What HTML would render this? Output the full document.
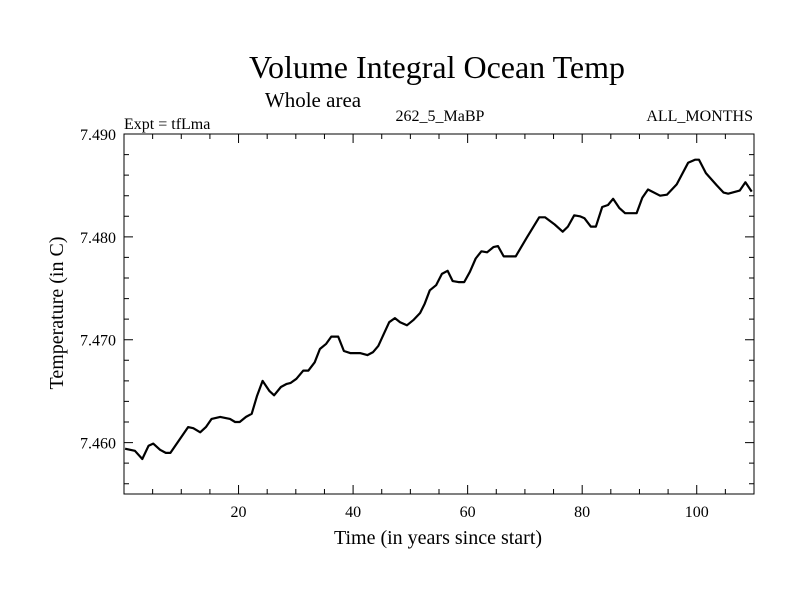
<!DOCTYPE html>
<html><head><meta charset="utf-8"><style>
body{margin:0;background:#fff;}
svg{display:block;font-family:"Liberation Serif",serif;}
</style></head><body>
<svg id="chart" width="800" height="600">
<text x="437" y="78" font-size="32" text-anchor="middle">Volume Integral Ocean Temp</text>
<text x="313" y="107" font-size="21" text-anchor="middle">Whole area</text>
<text x="124" y="129" font-size="16">Expt = tfLma</text>
<text x="440" y="121" font-size="16" text-anchor="middle">262_5_MaBP</text>
<text x="753" y="121" font-size="16" text-anchor="end">ALL_MONTHS</text>
<text x="438" y="544" font-size="20" text-anchor="middle">Time (in years since start)</text>
<text transform="translate(63,313) rotate(-90)" font-size="20" text-anchor="middle">Temperature (in C)</text>
<g id="axes"></g>
<path id="line" fill="none" stroke="#000" stroke-width="2.2" stroke-linejoin="round"></path>
<rect x="124" y="134" width="630" height="360" fill="none" stroke="#000" stroke-width="1"></rect>
</svg>
<script>
const years=[0.2,1.9,3.2,4.3,5.1,6.3,7.3,8.1,11.2,12.1,13.3,14.3,15.3,16.8,18.5,19.4,20.2,21.3,22.3,23.2,24.2,25.4,26.2,27.4,28.4,29.1,30.1,31.3,32.2,33.3,34.2,35.3,36.2,37.4,38.4,39.5,41.2,42.5,43.5,44.4,46.3,47.3,48.2,49.4,50.5,51.7,52.5,53.4,54.5,55.5,56.5,57.4,58.4,59.4,60.4,61.4,62.4,63.4,64.5,65.3,66.3,68.4,70.3,72.5,73.5,75.2,76.6,77.5,78.6,79.6,80.4,81.5,82.4,83.5,84.5,85.4,86.5,87.5,89.5,90.5,91.5,93.6,94.8,96.5,98.5,99.7,100.4,101.6,103.5,104.7,105.5,107.5,108.5,109.6];
const temps=[7.4594,7.4592,7.4584,7.4597,7.4599,7.4593,7.4590,7.4590,7.4615,7.4614,7.4610,7.4615,7.4623,7.4625,7.4623,7.4620,7.4620,7.4625,7.4628,7.4645,7.4660,7.4650,7.4646,7.4654,7.4657,7.4658,7.4662,7.4670,7.4670,7.4678,7.4691,7.4696,7.4703,7.4703,7.4689,7.4687,7.4687,7.4685,7.4688,7.4694,7.4717,7.4721,7.4717,7.4714,7.4719,7.4726,7.4735,7.4748,7.4753,7.4764,7.4767,7.4757,7.4756,7.4756,7.4766,7.4779,7.4786,7.4785,7.4790,7.4791,7.4781,7.4781,7.4799,7.4819,7.4819,7.4812,7.4805,7.4810,7.4821,7.4820,7.4818,7.4810,7.4810,7.4829,7.4831,7.4837,7.4828,7.4823,7.4823,7.4838,7.4846,7.4840,7.4841,7.4851,7.4872,7.4875,7.4875,7.4862,7.4850,7.4843,7.4842,7.4845,7.4853,7.4844];
const xTickLabels=[20,40,60,80,100];
const yTickLabels=["7.460","7.470","7.480","7.490"];
const X0=124,X1=754,Y0=494,Y1=134,XMIN=0,XMAX=110,YMIN=7.455,YMAX=7.490;
function sx(v){return X0+(v-XMIN)/(XMAX-XMIN)*(X1-X0);}
function sy(v){return Y0-(v-YMIN)/(YMAX-YMIN)*(Y0-Y1);}
const NS="http://www.w3.org/2000/svg";
const axes=document.getElementById('axes');
let d="";
for(let i=0;i<years.length;i++){d+=(i?"L":"M")+sx(years[i]).toFixed(1)+","+sy(temps[i]).toFixed(1);}
document.getElementById('line').setAttribute('d',d);
let tp="";
for(let t=5;t<XMAX;t+=5){const x=sx(t);const L=(t%20===0)?9:5;tp+=`M${x},${Y0}v${-L}M${x},${Y1}v${L}`;}
for(let k=0;k<=17;k++){const v=7.456+k*0.002;if(v>YMAX+1e-9)break;const y=sy(v);const maj=Math.abs((v*1000)%10)<0.01||Math.abs((v*1000)%10-10)<0.01;const L=maj?9:5;tp+=`M${X0},${y}h${L}M${X1},${y}h${-L}`;}
const ticks=document.createElementNS(NS,'path');
ticks.setAttribute('d',tp);ticks.setAttribute('stroke','#000');ticks.setAttribute('fill','none');


axes.appendChild(ticks);
xTickLabels.forEach(v=>{const t=document.createElementNS(NS,'text');t.setAttribute('x',sx(v));t.setAttribute('y',517);t.setAttribute('font-size','16');t.setAttribute('text-anchor','middle');t.textContent=v;


axes.appendChild(t);});
yTickLabels.forEach(v=>{const t=document.createElementNS(NS,'text');t.setAttribute('x',116);t.setAttribute('y',sy(parseFloat(v))+6);t.setAttribute('font-size','16');t.setAttribute('text-anchor','end');t.textContent=v;


axes.appendChild(t);});
</script>
</body></html>
